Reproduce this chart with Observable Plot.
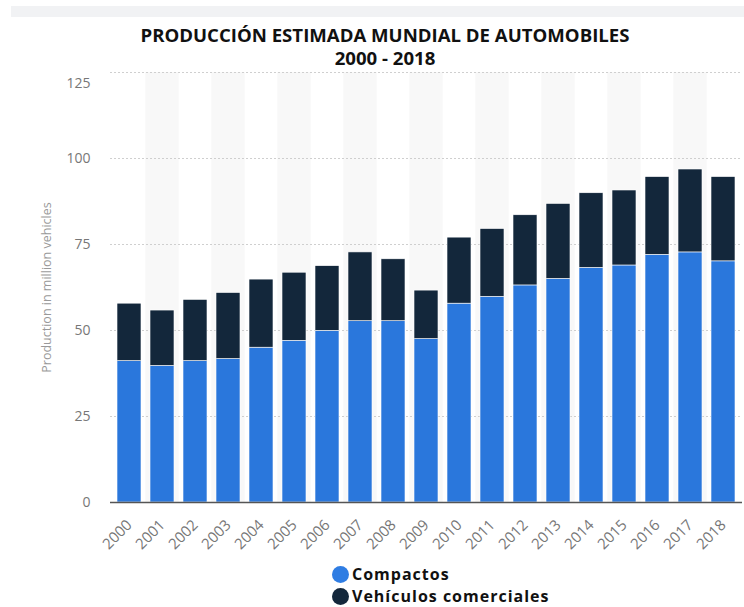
<!DOCTYPE html>
<html>
<head>
<meta charset="utf-8">
<script src="https://cdn.jsdelivr.net/npm/d3@7"></script>
<script src="https://cdn.jsdelivr.net/npm/@observablehq/plot@0.6"></script>
<style>
  html, body { margin: 0; padding: 0; background: #fff; }
  body { width: 744px; height: 607px; position: relative; overflow: hidden; font-family: "Open Sans", sans-serif; }
  #topband { position: absolute; left: 11px; top: 6px; width: 733px; height: 11px; background: #f1f2f4; }
  #title { position: absolute; left: 0; top: 23px; width: 744px; box-sizing: border-box; padding-left: 26px; text-align: center; font-weight: 700; font-size: 18.6px; line-height: 23px; color: #111; }
  #chart { position: absolute; left: 0; top: 0; }
  #legend { position: absolute; left: 332px; top: 563px; font-weight: 700; font-size: 16px; letter-spacing: 1px; color: #111; }
  .item { display: flex; align-items: center; height: 22px; line-height: 22px; }
  .dot { width: 17px; height: 17px; border-radius: 50%; margin-right: 3px; }
</style>
</head>
<body>
<div id="topband"></div>
<div id="title">PRODUCCIÓN ESTIMADA MUNDIAL DE AUTOMOBILES<br>2000 - 2018</div>
<div id="chart"></div>
<div id="legend"></div>
<script>
const years = ["2000","2001","2002","2003","2004","2005","2006","2007","2008","2009","2010","2011","2012","2013","2014","2015","2016","2017","2018"];
const compactos = [41.1, 39.7, 41.1, 41.7, 45.0, 47.0, 49.9, 52.7, 52.7, 47.5, 57.8, 59.8, 63.1, 65.0, 68.2, 68.9, 72.0, 72.7, 70.1];
const comerciales = [16.7, 16.1, 17.8, 19.2, 19.8, 19.8, 18.8, 20.0, 18.0, 14.1, 19.2, 19.7, 20.4, 21.8, 21.7, 21.8, 22.6, 24.1, 24.5];
const series = ["Compactos", "Vehículos comerciales"];
const colors = ["#2a77dc", "#13273b"];
const yTicks = [0, 25, 50, 75, 100, 125];
const yLabel = "Production in million vehicles";

const rows = years.flatMap((y, i) => [
  {year: y, tipo: series[0], value: compactos[i]},
  {year: y, tipo: series[1], value: comerciales[i]}
]);
const stripeYears = years.filter((d, i) => i % 2 === 1);

const chart = Plot.plot({
  width: 744,
  height: 560,
  marginTop: 72,
  marginBottom: 58,
  marginLeft: 110,
  marginRight: 2,
  style: {fontFamily: "Open Sans", fontSize: "14px", color: "#777", background: "transparent"},
  x: {domain: years, paddingInner: 0.28, paddingOuter: 0.14, label: null},
  y: {domain: [0, 125], label: null},
  color: {domain: series, range: colors},
  marks: [
    Plot.barY(stripeYears, {x: d => d, y1: 0, y2: 125, fill: "#f8f8f8", insetLeft: -4.66, insetRight: -4.66}),
    Plot.ruleY(yTicks.slice(1), {stroke: "#cfcfcf", strokeDasharray: "2,2"}),
    Plot.barY(rows, {x: "year", y: "value", fill: "tipo", stroke: "#fff", strokeWidth: 0.6}),
    Plot.ruleY([0], {stroke: "#555", strokeWidth: 1.5}),
    Plot.axisY({ticks: yTicks.slice(0, 5), tickSize: 0, tickPadding: 20, label: null, fill: "#777"}),
    Plot.axisY({ticks: yTicks.slice(5), tickSize: 0, tickPadding: 20, dy: 11, label: null, fill: "#777"}),
    Plot.axisX({tickSize: 0, tickRotate: -45, tickPadding: 20, fontSize: 15, label: null, fill: "#777"}),
    Plot.text([yLabel], {frameAnchor: "left", dx: -64, rotate: -90, textAnchor: "middle", fontSize: 12.5, fill: "#999"})
  ]
});
document.getElementById("chart").appendChild(chart);

const legend = document.getElementById("legend");
series.forEach((s, i) => {
  const item = document.createElement("div");
  item.className = "item";
  const dot = document.createElement("span");
  dot.className = "dot";
  dot.style.background = i === 0 ? "#2f7de3" : colors[1];
  const label = document.createElement("span");
  label.textContent = s;
  item.appendChild(dot);
  item.appendChild(label);
  legend.appendChild(item);
});
</script>
</body>
</html>
